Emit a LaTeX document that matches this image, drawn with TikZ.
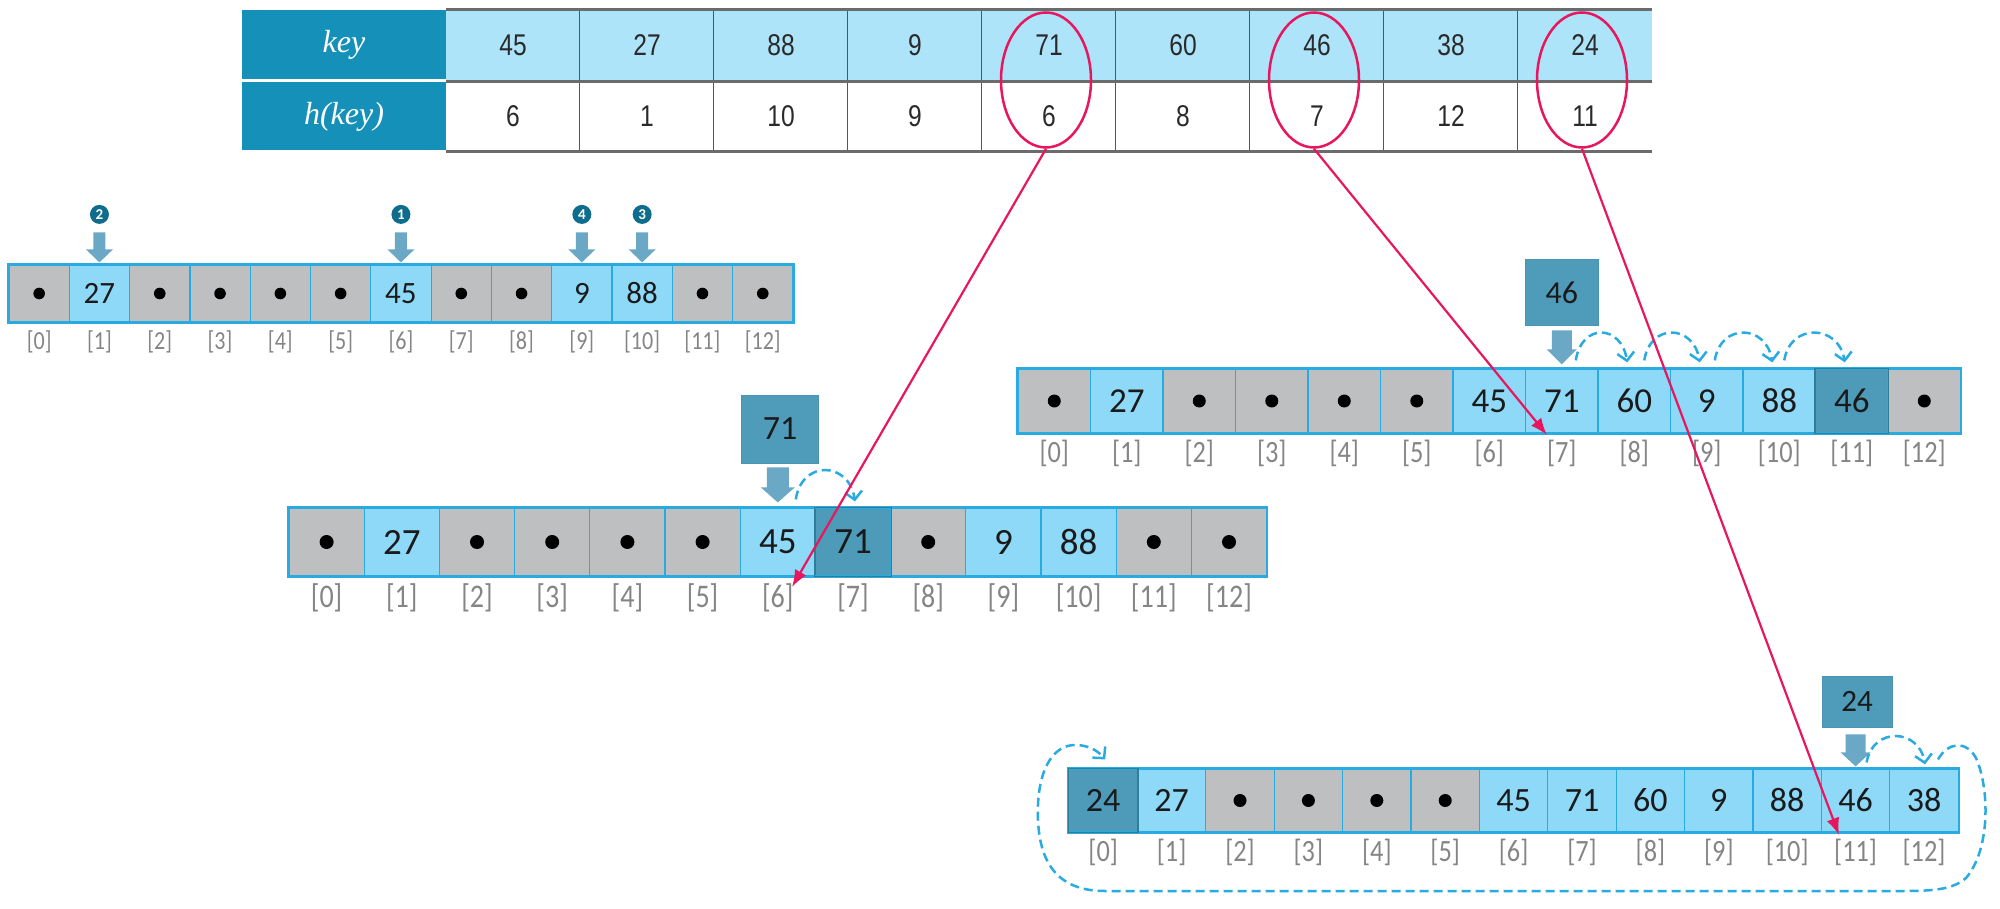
\documentclass[tikz,border=0pt]{standalone}
\usepackage{fontspec}
\setmainfont{Carlito}
\newfontfamily\tabfont[FakeStretch=0.82]{Liberation Sans}
\newfontfamily\serfont{Liberation Serif}
\newfontfamily\idxfont[FakeStretch=0.85]{Carlito}
\usetikzlibrary{arrows.meta,shapes.geometric,calc}
\definecolor{hdr}{HTML}{1590B8}
\definecolor{keyrow}{HTML}{ADE4F9}
\definecolor{tline}{HTML}{6B6B6B}
\definecolor{vlinec}{HTML}{555555}
\definecolor{tabtext}{HTML}{2A2A2A}
\definecolor{cellg}{HTML}{BEBFC1}
\definecolor{cellb}{HTML}{8ED8F8}
\definecolor{cellk}{HTML}{4E9BB9}
\definecolor{lineg}{HTML}{29ABE2}
\definecolor{lineb}{HTML}{29ABE2}
\definecolor{linek}{HTML}{2E7E9A}
\definecolor{boxfill}{HTML}{4F9BBA}
\definecolor{boxline}{HTML}{4A94B2}
\definecolor{blockc}{HTML}{6BA8C6}
\definecolor{numcirc}{HTML}{0E6C8C}
\definecolor{redc}{HTML}{E8175D}
\definecolor{idxgray}{HTML}{858585}
\definecolor{celltext}{HTML}{1A1A1A}
\newcommand\fsz[1]{\fontsize{#1}{#1}\selectfont}
% block arrow: #1 anchor, #2 shaft width, #3 head width, #4 shaft length, #5 head length, #6 gap above anchor
\newcommand\blkarr[6]{%
  \path (#1) ++(0,-#6) coordinate (batip);
  \fill[blockc, shift={(batip)}] ({-#2/2},{-#4-#5}) -- ({#2/2},{-#4-#5}) -- ({#2/2},{-#5})
    -- ({#3/2},{-#5}) -- (0,0) -- ({-#3/2},{-#5}) -- ({-#2/2},{-#5}) -- cycle;
}
\begin{document}
\begin{tikzpicture}[x=1pt,y=-1pt,
  hdrcell/.style={rectangle, fill=hdr, text=white, inner sep=0pt, font=\serfont\itshape\fsz{32}},
  keycell/.style={rectangle, fill=keyrow, minimum width=134pt, minimum height=71pt, inner sep=0pt, text=tabtext, font=\tabfont\fsz{30}},
  hcell/.style={rectangle, minimum width=134pt, minimum height=70pt, inner sep=0pt, text=tabtext, font=\tabfont\fsz{30}},
  hline/.style={draw=tline, line width=3pt},
  vline/.style={draw=vlinec, line width=1.3pt},
  redell/.style={ellipse, draw=redc, line width=2.5pt, minimum width=90pt, minimum height=135pt, inner sep=0pt},
  cell/.style={rectangle, line width=1.2pt, inner sep=0pt, text=celltext},
  idx/.style={inner sep=0pt, text=idxgray},
  outerb/.style={draw=lineb, line width=2.5pt},
  dotc/.style={fill=black},
  boxn/.style={rectangle, fill=boxfill, draw=boxline, line width=1pt, inner sep=0pt, text=celltext},
  numc/.style={circle, fill=numcirc, text=white, inner sep=0pt, minimum size=19pt, font=\bfseries\fsz{15}},
  dasharc/.style={draw=lineb, line width=2.5pt, dash pattern=on 9pt off 5pt, -{Straight Barb[length=8pt,width=17pt,line width=2.5pt]}},
  redarr/.style={draw=redc, line width=2.2pt, -{Latex[length=17pt,width=13pt]}}
]
\useasboundingbox (0,0) rectangle (2000,909);

% ---------- table ----------
\node[hdrcell, minimum width=204pt, minimum height=69pt] (th1) at (344,45) {key};
\node[hdrcell, minimum width=204pt, minimum height=68pt] (th2) at (344,116.5) {h(key)};
\foreach \kv/\hv [count=\i from 0] in {45/6,27/1,88/10,9/9,71/6,60/8,46/7,38/12,24/11} {
  \node[keycell] (k\i) at ({446+(\i+0.5)*134},45.5) {\kv};
  \node[hcell] (h\i) at ({446+(\i+0.5)*134},116) {\hv};
}
\foreach \i in {1,...,8} \draw[vline] (k\i.north west) -- (h\i.south west);
\draw[hline] (k0.north west) -- (k8.north east);
\draw[hline] (k0.south west) -- (k8.south east);
\draw[hline] (h0.south west) -- (h8.south east);

\node[redell] (e71) at (1046,80) {};
\node[redell] (e46) at (1314,80) {};
\node[redell] (e24) at (1582,80) {};

% ---------- array 1 ----------
\foreach \ty/\v [count=\i from 0] in {g/{},b/27,g/{},g/{},g/{},g/{},b/45,g/{},g/{},b/9,b/88,g/{},g/{}} {
  \node[cell, fill=cell\ty, draw=line\ty, minimum width=60.3pt, minimum height=57pt, font=\fsz{31}] (a1c\i) at ({9+(\i+0.5)*60.3},293.5) {\v};
  \node[idx, font=\idxfont\fsz{26}] (a1l\i) at ({9+(\i+0.5)*60.3},342) {[\i]};
}
\draw[outerb] (a1c0.north west) rectangle (a1c12.south east);
\foreach \i in {0,2,3,4,5,7,8,11,12} \fill[dotc] (a1c\i) circle[radius=5.8pt];
\foreach \i in {1,6,9,10} {\blkarr{a1c\i.north}{12}{27}{17}{13}{2}}
\node[numc] (n1) at ([yshift=50pt]a1c6.north) {1};
\node[numc] (n2) at ([yshift=50pt]a1c1.north) {2};
\node[numc] (n3) at ([yshift=50pt]a1c10.north) {3};
\node[numc] (n4) at ([yshift=50pt]a1c9.north) {4};

% ---------- array 2 ----------
\foreach \ty/\v [count=\i from 0] in {g/{},b/27,g/{},g/{},g/{},g/{},b/45,b/71,b/60,b/9,b/88,k/46,g/{}} {
  \node[cell, fill=cell\ty, draw=line\ty, minimum width=72.5pt, minimum height=64pt, font=\fsz{35}] (a2c\i) at ({1018+(\i+0.5)*72.5},401) {\v};
  \node[idx, font=\idxfont\fsz{31}] (a2l\i) at ({1018+(\i+0.5)*72.5},453) {[\i]};
}
\draw[outerb] (a2c0.north west) rectangle (a2c12.south east);
\draw[draw=linek, line width=1.2pt] (a2c11.north west) rectangle (a2c11.south east);
\foreach \i in {0,2,3,4,5,12} \fill[dotc] (a2c\i) circle[radius=6.5pt];
\node[boxn, minimum width=73pt, minimum height=66pt, font=\fsz{32}] (b46) at (1561.75,293) {46};
\blkarr{a2c7.north}{20}{30}{19}{15}{4}
\foreach \i/\j/\s in {7/8/14pt,8/9/10pt,9/10/8pt,10/11/5pt}
  \draw[dasharc] ([xshift=\s,yshift=8pt]a2c\i.north) .. controls +(6,-38) and +(-6,-38) .. ([xshift=-7pt,yshift=6pt]a2c\j.north);

% ---------- array 3 ----------
\foreach \ty/\v [count=\i from 0] in {g/{},b/27,g/{},g/{},g/{},g/{},b/45,k/71,g/{},b/9,b/88,g/{},g/{}} {
  \node[cell, fill=cell\ty, draw=line\ty, minimum width=75.2pt, minimum height=68pt, font=\fsz{37}] (a3c\i) at ({289+(\i+0.5)*75.2},542) {\v};
  \node[idx, font=\idxfont\fsz{33}] (a3l\i) at ({289+(\i+0.5)*75.2},598) {[\i]};
}
\draw[outerb] (a3c0.north west) rectangle (a3c12.south east);
\draw[draw=linek, line width=1.2pt] (a3c7.north west) rectangle (a3c7.south east);
\foreach \i in {0,2,3,4,5,8,11,12} \fill[dotc] (a3c\i) circle[radius=7pt];
\node[boxn, minimum width=77pt, minimum height=68pt, font=\fsz{34}] (b71) at (780,429) {71};
\blkarr{a3c6.north}{22}{34}{20}{15}{5}
\draw[dasharc] ([xshift=18pt,yshift=8pt]a3c6.north) .. controls +(6,-40) and +(-6,-40) .. ([xshift=2pt,yshift=6pt]a3c7.north);

% ---------- array 4 ----------
\foreach \ty/\v [count=\i from 0] in {k/24,b/27,g/{},g/{},g/{},g/{},b/45,b/71,b/60,b/9,b/88,b/46,b/38} {
  \node[cell, fill=cell\ty, draw=line\ty, minimum width=68.4pt, minimum height=63pt, font=\fsz{34}] (a4c\i) at ({1069+(\i+0.5)*68.4},800.5) {\v};
  \node[idx, font=\idxfont\fsz{31}] (a4l\i) at ({1069+(\i+0.5)*68.4},852) {[\i]};
}
\draw[outerb] (a4c0.north west) rectangle (a4c12.south east);
\draw[draw=linek, line width=1.2pt] (a4c0.north west) rectangle (a4c0.south east);
\foreach \i in {2,3,4,5} \fill[dotc] (a4c\i) circle[radius=6.5pt];
\node[boxn, minimum width=70pt, minimum height=51pt, font=\fsz{31}] (b24) at (1857,701.5) {24};
\blkarr{a4c11.north}{20}{30}{18}{14}{2}
\draw[dasharc] ([xshift=11pt,yshift=6pt]a4c11.north) .. controls +(6,-36) and +(-6,-36) .. ([xshift=1pt,yshift=4pt]a4c12.north);
\draw[dasharc] ([xshift=14pt,yshift=9pt]a4c12.north)
  .. controls (1948,742) and (1966,740) .. (1976,758)
  .. controls (1990,790) and (1990,850) .. (1966,878)
  .. controls (1950,892) and (1925,891) .. (1885,891)
  -- (1105,891)
  .. controls (1062,891) and (1040,868) .. (1038,820)
  .. controls (1036,772) and (1052,745) .. (1075,745)
  .. controls (1088,745) and (1097,750) .. ([xshift=2pt,yshift=9pt]a4c0.north);

% ---------- red arrows ----------
\coordinate (t71) at (792,587);
\coordinate (t46) at (1547,435);
\coordinate (t24) at (1839,835);
\draw[redarr] (e71.south) -- (t71);
\draw[redarr] (e46.south) -- (t46);
\draw[redarr] (e24.south) -- (t24);
\end{tikzpicture}
\end{document}
